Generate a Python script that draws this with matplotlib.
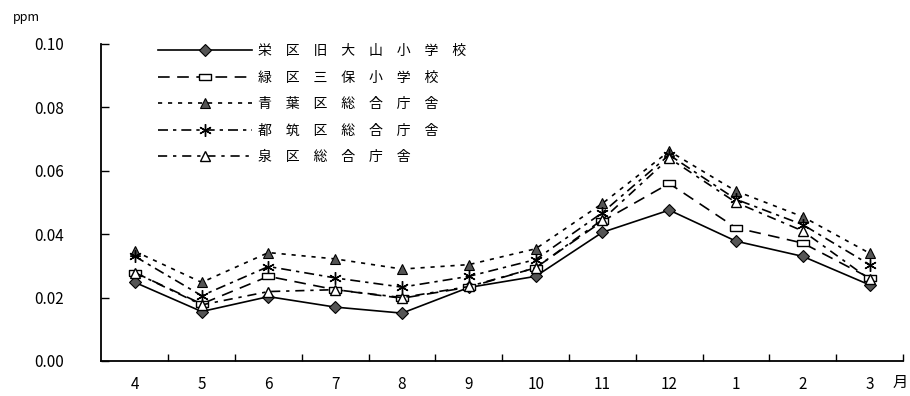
import matplotlib
matplotlib.use('Agg')
import matplotlib.pyplot as plt
import numpy as np

plt.rcParams['font.family'] = ['Noto Sans CJK JP', 'DejaVu Sans']

# monthly means (ppm), April .. March
months = ['4', '5', '6', '7', '8', '9', '10', '11', '12', '1', '2', '3']

sakae = [0.0248, 0.0156, 0.0203, 0.0170, 0.0151, 0.0232, 0.0267, 0.0406, 0.0476, 0.0378, 0.0330, 0.0240]
midori = [0.0279, 0.0180, 0.0267, 0.0225, 0.0198, 0.0233, 0.0294, 0.0441, 0.0560, 0.0420, 0.0372, 0.0262]
aoba = [0.0346, 0.0248, 0.0342, 0.0322, 0.0290, 0.0304, 0.0354, 0.0497, 0.0662, 0.0536, 0.0455, 0.0340]
tsuzuki = [0.0330, 0.0206, 0.0298, 0.0262, 0.0233, 0.0267, 0.0320, 0.0468, 0.0650, 0.0510, 0.0430, 0.0304]
izumi = [0.0279, 0.0177, 0.0219, 0.0225, 0.0200, 0.0235, 0.0294, 0.0446, 0.0640, 0.0500, 0.0410, 0.0258]

station_names = ['栄区旧大山小学校', '緑区三保小学校', '青葉区総合庁舎', '都筑区総合庁舎', '泉区総合庁舎']

# flat rectangle marker like the original
rect = [(-1, -0.55), (1, -0.55), (1, 0.55), (-1, 0.55), (-1, -0.55)]

styles = [
    dict(ls='-', marker='D', ms=6, mfc='#555555', mec='black', mew=0.8),
    dict(ls=(0, (7, 4.5)), marker=rect, ms=9, mfc='white', mec='black', mew=1.0),
    dict(ls=(0, (2.5, 3.5)), marker='^', ms=7, mfc='#555555', mec='black', mew=0.8),
    dict(ls=(0, (6, 3, 2, 3)), marker=(6, 2, 0), ms=9, mfc='black', mec='black', mew=1.0),
    dict(ls=(0, (5.5, 3.5, 2, 3.5)), marker='^', ms=7, mfc='white', mec='black', mew=1.0),
]

fig = plt.figure(figsize=(9.1, 3.96), dpi=100)
ax = fig.add_axes([0.1115, 0.0884, 0.8808, 0.8005])

x = np.arange(len(months))
series = [sakae, midori, aoba, tsuzuki, izumi]
for vals, name, st in zip(series, station_names, styles):
    ax.plot(x, vals, color='black', lw=1.2, label='\u3000'.join(name), **st)

ax.set_xlim(-0.5, 11.5)
ax.set_ylim(0, 0.10)
for side in ['top', 'right']:
    ax.spines[side].set_visible(False)
ax.spines['left'].set_linewidth(1.3)
ax.spines['bottom'].set_linewidth(1.3)

ax.set_xticks(x)
ax.set_xticklabels(months, fontsize=11)
ax.tick_params(axis='x', which='major', length=0, pad=11)
ax.set_xticks(np.arange(0.5, 12, 1), minor=True)
ax.tick_params(axis='x', which='minor', direction='in', length=5, width=1.0)

yt = np.arange(0, 0.101, 0.02)
ax.set_yticks(yt)
ax.set_yticklabels(['%.2f' % v for v in yt], fontsize=11)
ax.tick_params(axis='y', direction='in', length=6, width=1.0, pad=27)

fig.text(13 / 910, 1 - 18 / 396, 'ppm', fontsize=9, ha='left', va='center')
fig.text(908 / 910, 1 - 382 / 396, '月', fontsize=11, ha='right', va='center')

ax.legend(loc='upper left', bbox_to_anchor=(158 / 910, 1 - 44 / 396),
          bbox_transform=fig.transFigure, frameon=False, fontsize=10,
          handlelength=6.8, handletextpad=0.4, labelspacing=0.9,
          borderpad=0, borderaxespad=0, numpoints=1)

fig.savefig('out.png', dpi=100)
